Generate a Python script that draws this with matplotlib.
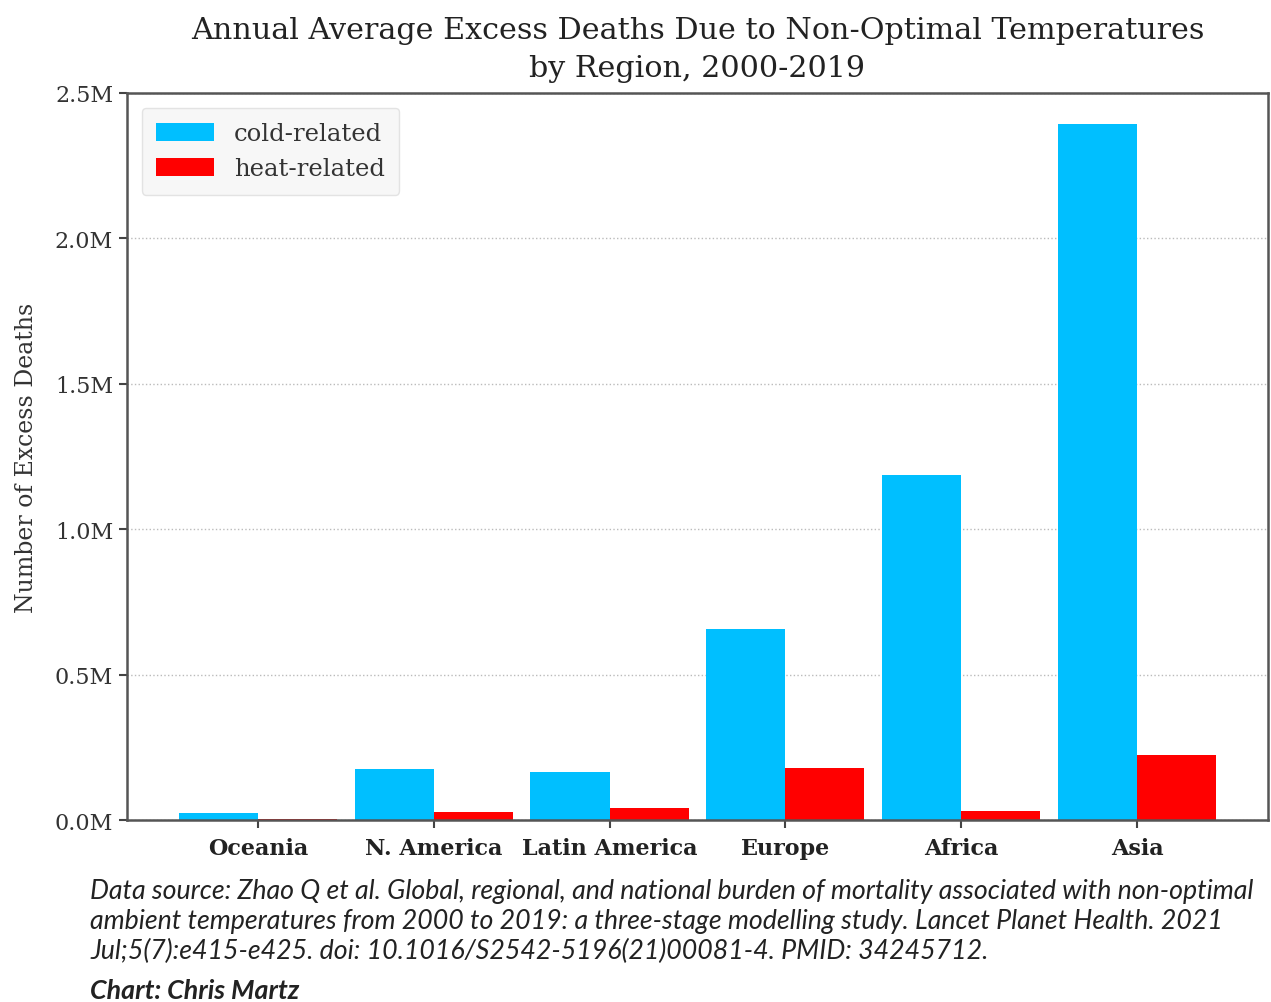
import matplotlib
matplotlib.use("Agg")
import matplotlib.pyplot as plt
import numpy as np
from matplotlib.ticker import FuncFormatter

regions = ["Oceania", "N. America", "Latin America", "Europe", "Africa", "Asia"]
cold_related = [0.024e6, 0.175e6, 0.165e6, 0.657e6, 1.186e6, 2.393e6]
heat_related = [0.005e6, 0.027e6, 0.041e6, 0.179e6, 0.031e6, 0.224e6]
yticks = [0, 0.5e6, 1.0e6, 1.5e6, 2.0e6, 2.5e6]

serif = ["DejaVu Serif"]
plt.rcParams['font.family'] = serif

fig = plt.figure(figsize=(12.71, 10.03), dpi=100)
ax = fig.add_axes([0.0999, 0.1814, 0.8977, 0.7249])

x = np.arange(len(regions))
w = 0.45
ax.bar(x - w / 2, cold_related, w, color="#00BFFF", label="cold-related", zorder=2)
ax.bar(x + w / 2, heat_related, w, color="#FF0000", label="heat-related", zorder=2)

ax.set_xticks(x)
ax.set_xticklabels(regions, fontsize=16, fontweight="bold", color="#222222")
ax.set_yticks(yticks)
ax.set_ylim(0, 2.5e6)
ax.yaxis.set_major_formatter(FuncFormatter(lambda v, p: f"{v/1e6:.1f}M"))
ax.tick_params(axis="y", labelsize=16, length=6, width=1.5, colors="#444444", pad=4)
ax.tick_params(axis="x", length=6, width=1.5, colors="#444444", pad=6)
for lbl in ax.get_xticklabels():
    lbl.set_color("#222222")
for lbl in ax.get_yticklabels():
    lbl.set_color("#333333")
ax.grid(axis="y", linestyle=":", color="#bbbbbb", linewidth=1, zorder=0)
for s in ax.spines.values():
    s.set_color("#555555")
    s.set_linewidth(1.8)

ax.set_ylabel("Number of Excess Deaths", fontsize=17, color="#333333", labelpad=12)
ax.set_title("Annual Average Excess Deaths Due to Non-Optimal Temperatures\nby Region, 2000-2019",
             fontsize=21.7, color="#222222", pad=12, linespacing=1.48)

leg = ax.legend(loc="upper left", fontsize=17.5, frameon=True, fancybox=True,
                handlelength=2.4, handleheight=0.75, borderpad=0.6, labelspacing=0.5,
                handletextpad=0.8, borderaxespad=0.6)
leg.get_frame().set_facecolor("#f5f5f5")
leg.get_frame().set_edgecolor("#dddddd")
for t in leg.get_texts():
    t.set_color("#333333")

foot = ("Data source: Zhao Q et al. Global, regional, and national burden of mortality associated with non-optimal\n"
        "ambient temperatures from 2000 to 2019: a three-stage modelling study. Lancet Planet Health. 2021\n"
        "Jul;5(7):e415-e425. doi: 10.1016/S2542-5196(21)00081-4. PMID: 34245712.")
fig.text(90 / 1271, 1 - 879 / 1003, foot, fontsize=19.3, style="italic", family=["Lato"],
         color="#222222", va="top", ha="left", linespacing=1.24)
fig.text(90 / 1271, 1 - 991 / 1003, "Chart: Chris Martz", fontsize=19.3, style="italic", fontweight="bold",
         family=["Lato"], color="#222222", va="center", ha="left")

fig.savefig("out.png", dpi=100)
